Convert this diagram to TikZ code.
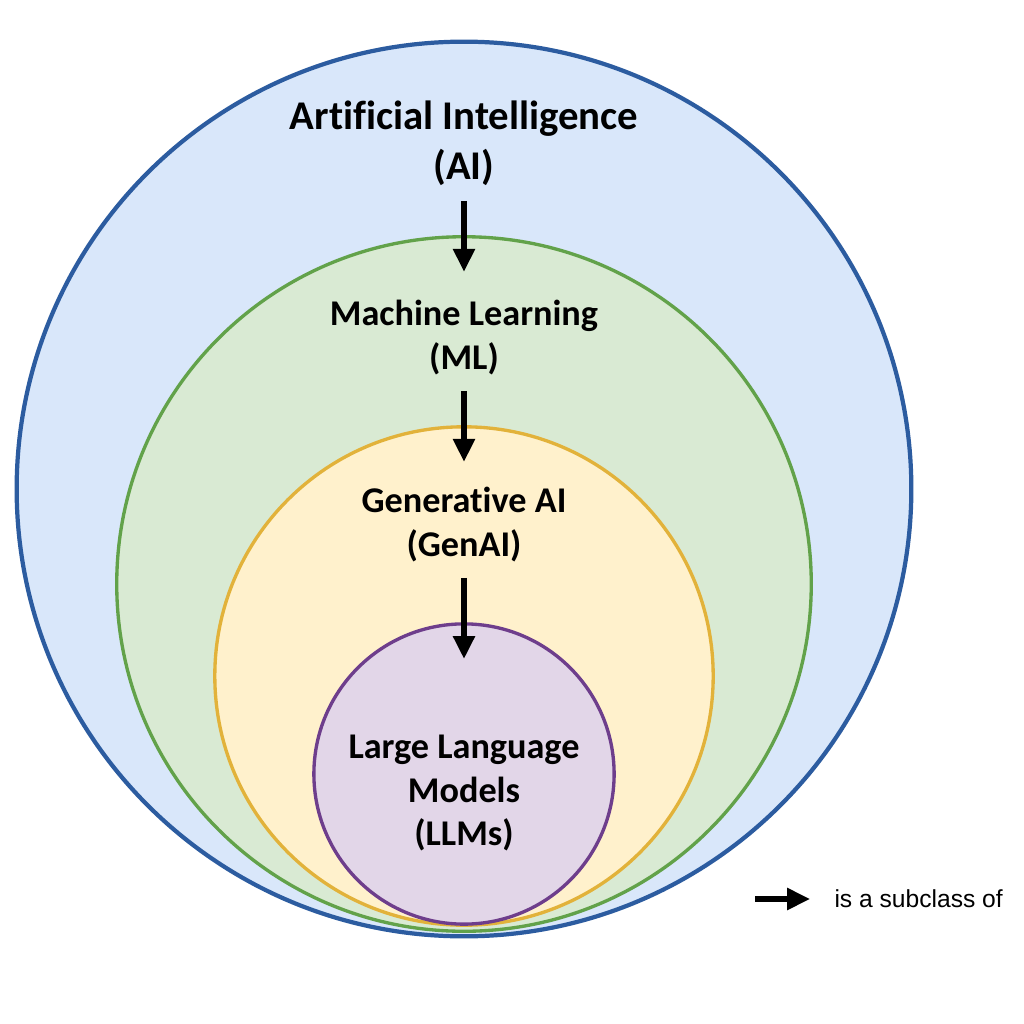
\documentclass[tikz,border=0pt]{standalone}
\usepackage{fontspec}
\setmainfont{Carlito}[Ligatures=NoCommon]
\newfontfamily\keyfont{Liberation Sans}
\usetikzlibrary{arrows.meta,positioning}

\definecolor{aiFill}{RGB}{217,231,250}
\definecolor{aiLine}{RGB}{44,92,160}
\definecolor{mlFill}{RGB}{217,234,211}
\definecolor{mlLine}{RGB}{98,162,74}
\definecolor{genFill}{RGB}{255,241,204}
\definecolor{genLine}{RGB}{226,178,58}
\definecolor{llmFill}{RGB}{226,214,232}
\definecolor{llmLine}{RGB}{110,62,140}

\begin{document}
\begin{tikzpicture}[x=.01cm,y=-.01cm,line width=.85pt,
 ring/.style={circle,inner sep=0pt,outer sep=0pt},
 lbl/.style={font=\bfseries\fontsize{10.3}{12.5}\selectfont,align=center,inner sep=2pt},
 subof/.style={-{Triangle[length=6.5pt,width=6pt]},line width=1.5pt,shorten <=2pt,shorten >=-.35cm}]
\useasboundingbox (0,0) rectangle (1024,1024);
\fill[white] (0,0) rectangle (1024,1024);
% nested sets
\foreach \name/\cy/\r/\lw in {ai/489/447/1.2pt,ml/584/347/.95pt,gen/676/249/.95pt,llm/774/150/.95pt}{
 \node[ring,draw=\name Line,fill=\name Fill,line width=\lw,minimum size=\r*.02cm] (\name) at (464,\cy) {};
}
% labels
\node[lbl,font=\bfseries\fontsize{11.6}{14.2}\selectfont] (aiT) at (464,143) {Artificial Intelligence\\(AI)};
\node[lbl] (mlT) at (464,338) {Machine Learning\\(ML)};
\node[lbl] (genT) at (464,525) {Generative AI\\(GenAI)};
\node[lbl] (llmT) at (464,793) {Large Language\\Models\\(LLMs)};
% subclass arrows
\draw[subof] (aiT) -- (ml);
\draw[subof] (mlT) -- (gen);
\draw[subof] (genT) -- (llm);
% key
\node[anchor=west,font=\keyfont\fontsize{7}{8}\selectfont,inner sep=0pt] (key) at (833,899) {is a subclass of};
\coordinate (keytail) at (755,899);
\draw[subof,shorten <=0pt,shorten >=.23cm] (keytail) -- (key.west);
\end{tikzpicture}
\end{document}
